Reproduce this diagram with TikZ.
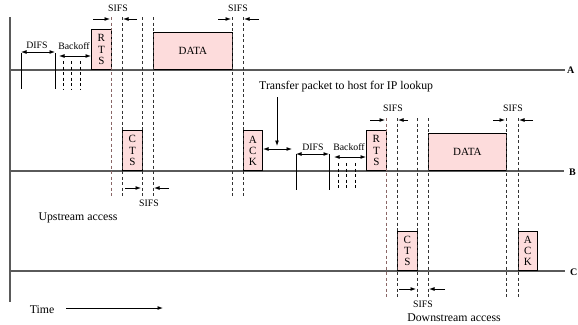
\documentclass[tikz,border=0pt]{standalone}
\usepackage{fontspec}
\setmainfont{Liberation Serif}
\usetikzlibrary{arrows.meta}
\definecolor{framefill}{HTML}{FDDCDC}
\definecolor{axisgray}{HTML}{5A5A5A}
\definecolor{edgered}{HTML}{8A6666}
\tikzset{
  frame/.style={draw=black, fill=framefill, line width=0.8pt, inner sep=0pt,
                anchor=south west, align=center, font=\fontsize{11}{11.2}\selectfont},
  timeline/.style={draw=axisgray, line width=1.3pt},
  guide/.style={draw=black!80, line width=0.7pt, dash pattern=on 3pt off 2.5pt},
  edgeguide/.style={draw=edgered, line width=0.7pt, dash pattern=on 3pt off 2.5pt},
  tick/.style={draw=black, line width=0.7pt},
  slot/.style={draw=black, line width=0.7pt, dash pattern=on 3pt off 2.5pt},
  tip/.style={-{Latex[length=5.5pt,width=4pt]}, line width=0.9pt},
  bitip/.style={{Latex[length=5.5pt,width=4pt]}-{Latex[length=5.5pt,width=4pt]}, line width=0.9pt},
  lbl/.style={font=\fontsize{9.8}{10}\selectfont, inner sep=0pt},
  big/.style={font=\fontsize{11.8}{12}\selectfont, inner sep=0pt},
  station/.style={font=\bfseries\fontsize{10}{11}\selectfont, inner sep=0pt, anchor=west}
}
\begin{document}
\begin{tikzpicture}[x=1pt, y=-1pt]
\useasboundingbox (0,0) rectangle (578,324);

% time axis and the three station lines
\coordinate (ax0) at (10,17);
\coordinate (ax1) at (10,302);
\draw[draw=axisgray, line width=1.3pt] (ax0) -- (ax1);
\coordinate (A0) at (10,70);  \coordinate (A1) at (565,70);
\coordinate (B0) at (10,171); \coordinate (B1) at (564,171);
\coordinate (C0) at (10,271); \coordinate (C1) at (565,271);
\draw[timeline] (A0) -- (A1);
\draw[timeline] (B0) -- (B1);
\draw[timeline] (C0) -- (C1);
\node[station] (labA) at (567,70) {A};
\node[station] (labB) at (569,172) {B};
\node[station] (labC) at (570,272) {C};

% ---------- upstream exchange: A -> B ----------
% DIFS and backoff on A
\draw[tick] (21,53) -- (21,89);
\draw[tick] (55,53) -- (55,89);
\coordinate (dA0) at (21,52); \coordinate (dA1) at (55,52);
\draw[bitip] (dA0) -- (dA1);
\node[lbl] (difsA) at (37,45) {DIFS};
\node[lbl] (backA) at (74,46) {Backoff};
\coordinate (bA0) at (59,56); \coordinate (bA1) at (91,56);
\draw[bitip] (bA0) -- (bA1);
\foreach \x in {63,71,80} \draw[slot] (\x,61) -- (\x,89);

% frames
\node[frame, minimum width=20pt, minimum height=40pt] (rtsA) at (91,70) {R\\T\\S};
\node[frame, minimum width=79pt, minimum height=37pt] (dataA) at (153,70) {DATA};
\node[frame, minimum width=20pt, minimum height=40pt] (ctsB) at (122,171) {C\\T\\S};
\node[frame, minimum width=19pt, minimum height=40pt] (ackB) at (243,171) {A\\C\\K};

% guide lines
\draw[edgeguide] (111,17) -- (111,198);
\foreach \x in {122,142,153,232,243} \draw[guide] (\x,17) -- (\x,198);

% SIFS markers
\node[lbl] (sifs1) at (118,8) {SIFS};
\draw[tip] (93,19) -- (110,19);
\draw[tip] (137,19) -- (123,19);
\node[lbl] (sifs2) at (238,8) {SIFS};
\draw[tip] (218,19) -- (231,19);
\draw[tip] (259,19) -- (244,19);
\node[lbl] (sifs3) at (149,203) {SIFS};
\draw[tip] (125,188) -- (141,188);
\draw[tip] (169,188) -- (154,188);

\node[big] (up) at (78,218) {Upstream access};

% ---------- hand-over to the host ----------
\node[big, anchor=west] (xfer) at (259,87) {Transfer packet to host for IP lookup};
\coordinate (xd0) at (277,97); \coordinate (xd1) at (277,146);
\draw[tip] (xd0) -- (xd1);
\coordinate (xh0) at (263,149); \coordinate (xh1) at (292,149);
\draw[bitip] (xh0) -- (xh1);

% ---------- downstream exchange: B -> C ----------
\draw[tick] (296,154) -- (296,190);
\draw[tick] (329,154) -- (329,190);
\coordinate (dB0) at (296,154); \coordinate (dB1) at (329,154);
\draw[bitip] (dB0) -- (dB1);
\node[lbl] (difsB) at (313,147) {DIFS};
\node[lbl] (backB) at (349,147) {Backoff};
\coordinate (bB0) at (334,157); \coordinate (bB1) at (366,157);
\draw[bitip] (bB0) -- (bB1);
\foreach \x in {338,346,355} \draw[slot] (\x,163) -- (\x,189);

\node[frame, minimum width=20pt, minimum height=40pt] (rtsB) at (366,171) {R\\T\\S};
\node[frame, minimum width=78pt, minimum height=37pt] (dataB) at (428,171) {DATA};
\node[frame, minimum width=20pt, minimum height=39pt] (ctsC) at (397,271) {C\\T\\S};
\node[frame, minimum width=19pt, minimum height=39pt] (ackC) at (518,271) {A\\C\\K};

\draw[edgeguide] (386,118) -- (386,299);
\foreach \x in {397,417,428,506,518} \draw[guide] (\x,118) -- (\x,299);

\node[lbl] (sifs4) at (393,108) {SIFS};
\draw[tip] (370,120) -- (385,120);
\draw[tip] (408,120) -- (398,120);
\node[lbl] (sifs5) at (513,108) {SIFS};
\draw[tip] (493,120) -- (505,120);
\draw[tip] (533,120) -- (519,120);
\node[lbl] (sifs6) at (423,304) {SIFS};
\draw[tip] (399,289) -- (416,289);
\draw[tip] (445,289) -- (429,289);

\node[big] (down) at (454,318) {Downstream access};

% time direction
\node[big] (time) at (42,310) {Time};
\coordinate (t0) at (66,308); \coordinate (t1) at (163,308);
\draw[tip] (t0) -- (t1);
\end{tikzpicture}
\end{document}
